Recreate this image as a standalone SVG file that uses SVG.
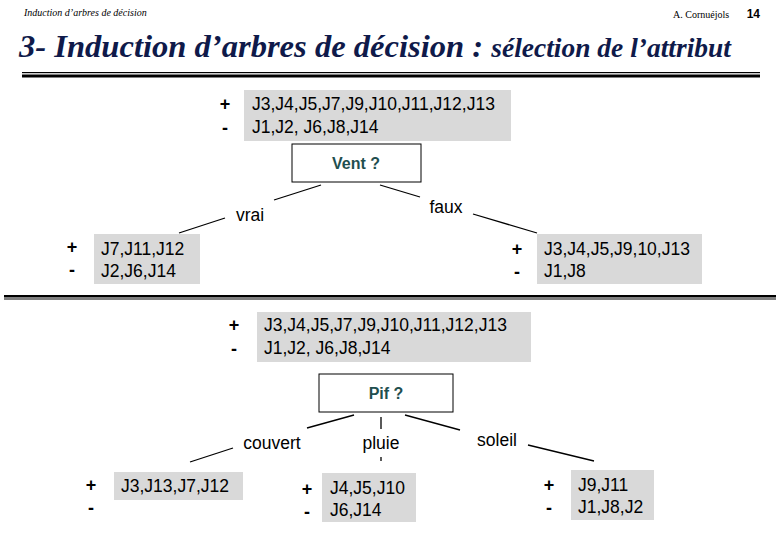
<svg xmlns="http://www.w3.org/2000/svg" width="780" height="540" viewBox="0 0 780 540">
<style>
.t{font-family:"Liberation Sans",Arial,sans-serif;font-size:17.5px;fill:#000}
.pm{font-family:"Liberation Sans",Arial,sans-serif;font-size:18px;font-weight:bold;fill:#000;text-anchor:middle}
.box{fill:#d9d9d9}
.q{fill:#fff;stroke:#000;stroke-width:1}
.qt{font-family:"Liberation Sans",Arial,sans-serif;font-size:16px;font-weight:bold;fill:#1f4f4f;text-anchor:middle}
.ln{stroke:#000;stroke-width:1.3;fill:none}
</style>
<rect width="780" height="540" fill="#fff"/>
<g id="header">
<text x="24" y="16" font-family="Liberation Serif,serif" font-style="italic" font-size="10">Induction d’arbres de décision</text>
<text x="673" y="18" font-family="Liberation Serif,serif" font-size="10">A. Cornuéjols</text>
<text x="760" y="18" font-family="Liberation Sans,sans-serif" font-weight="bold" font-size="12" text-anchor="end">14</text>
<text x="19" y="57" font-family="Liberation Serif,serif" font-style="italic" font-weight="bold" font-size="32" fill="#0f1a4a" textLength="712" lengthAdjust="spacingAndGlyphs">3- Induction d’arbres de décision : <tspan font-size="27">sélection de l’attribut</tspan></text>
<rect x="22" y="72" width="738" height="1.2" fill="#000"/>
<rect x="22" y="74.5" width="738" height="3" fill="#000"/>
<rect x="4" y="295" width="772" height="2.5" fill="#000"/>
<rect x="4" y="298.5" width="772" height="1" fill="#000"/>
</g>
<g id="connectors">
<line class="ln" x1="321" y1="185" x2="274" y2="200"/>
<line class="ln" x1="225" y1="218" x2="179" y2="233"/>
<line class="ln" x1="380" y1="185" x2="420" y2="197"/>
<line class="ln" x1="473" y1="214" x2="537" y2="233"/>
<line class="ln" x1="354" y1="415" x2="307" y2="428"/>
<line class="ln" x1="233" y1="448" x2="190" y2="462"/>
<line class="ln" x1="381" y1="417" x2="381" y2="429"/>
<line class="ln" x1="381" y1="457" x2="381" y2="461"/>
<line class="ln" x1="405" y1="415" x2="460" y2="430"/>
<line class="ln" x1="528" y1="445" x2="594" y2="461"/>
<text class="t" x="250" y="221" text-anchor="middle">vrai</text>
<text class="t" x="446" y="213" text-anchor="middle">faux</text>
<text class="t" x="272" y="449" text-anchor="middle">couvert</text>
<text class="t" x="381" y="449" text-anchor="middle">pluie</text>
<text class="t" x="497" y="446" text-anchor="middle">soleil</text>
</g>
<g id="root1">
<rect class="box" x="244" y="90" width="267" height="51"/>
<text class="pm" x="225" y="110">+</text><text class="pm" x="225" y="134">-</text>
<text class="t" x="252" y="110">J3,J4,J5,J7,J9,J10,J11,J12,J13</text>
<text class="t" x="252" y="133">J1,J2, J6,J8,J14</text>
</g>
<g id="vent">
<rect class="q" x="292" y="144" width="129" height="38"/>
<text class="qt" x="356" y="169">Vent ?</text>
</g>
<g id="vrai-leaf">
<rect class="box" x="94" y="234" width="106" height="50"/>
<text class="pm" x="72" y="253">+</text><text class="pm" x="72" y="276">-</text>
<text class="t" x="101" y="255">J7,J11,J12</text>
<text class="t" x="101" y="277">J2,J6,J14</text>
</g>
<g id="faux-leaf">
<rect class="box" x="537" y="234" width="165" height="50"/>
<text class="pm" x="517" y="255">+</text><text class="pm" x="517" y="278">-</text>
<text class="t" x="544" y="255">J3,J4,J5,J9,10,J13</text>
<text class="t" x="544" y="277">J1,J8</text>
</g>
<g id="root2">
<rect class="box" x="257" y="312" width="274" height="50"/>
<text class="pm" x="234" y="331">+</text><text class="pm" x="234" y="355">-</text>
<text class="t" x="264" y="331">J3,J4,J5,J7,J9,J10,J11,J12,J13</text>
<text class="t" x="264" y="354">J1,J2, J6,J8,J14</text>
</g>
<g id="pif">
<rect class="q" x="319" y="374" width="134" height="38"/>
<text class="qt" x="386" y="399">Pif ?</text>
</g>
<g id="couvert-leaf">
<rect class="box" x="114" y="472" width="129" height="28"/>
<text class="pm" x="91" y="491">+</text><text class="pm" x="91" y="514">-</text>
<text class="t" x="121" y="492">J3,J13,J7,J12</text>
</g>
<g id="pluie-leaf">
<rect class="box" x="322" y="473" width="94" height="49"/>
<text class="pm" x="307" y="495">+</text><text class="pm" x="307" y="518">-</text>
<text class="t" x="330" y="494">J4,J5,J10</text>
<text class="t" x="330" y="516">J6,J14</text>
</g>
<g id="soleil-leaf">
<rect class="box" x="571" y="470" width="83" height="50"/>
<text class="pm" x="549" y="491">+</text><text class="pm" x="549" y="514">-</text>
<text class="t" x="578" y="491">J9,J11</text>
<text class="t" x="578" y="513">J1,J8,J2</text>
</g>
</svg>
